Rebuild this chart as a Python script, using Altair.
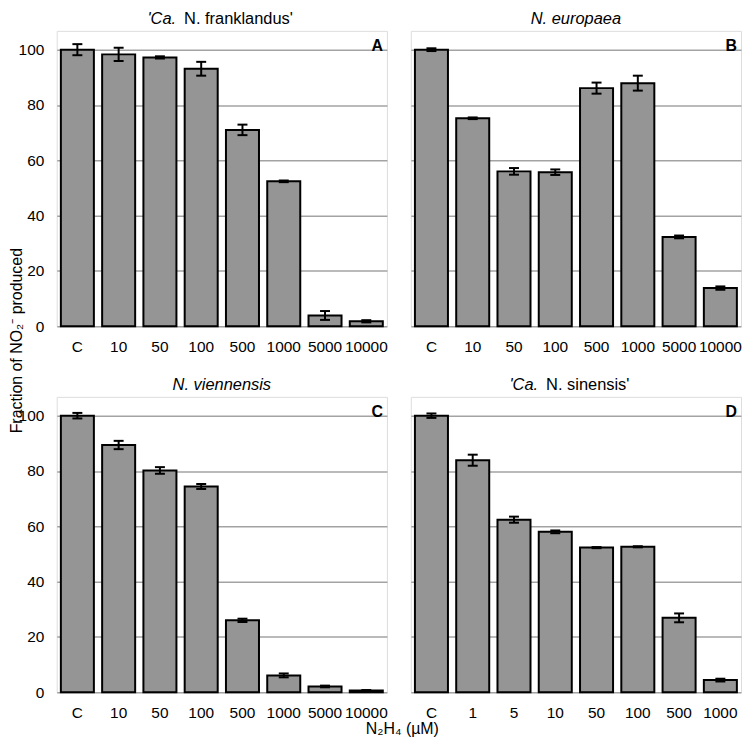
import altair as alt
import pandas as pd

FONT = "Liberation Sans"

# ---- data ----
cats_a = ["C", "10", "50", "100", "500", "1000", "5000", "10000"]
vals_a = [100.0, 98.3, 97.2, 93.1, 71.0, 52.4, 3.9, 1.8]
errs_a = [2.0, 2.4, 0.4, 2.5, 1.9, 0.3, 1.6, 0.4]

cats_b = ["C", "10", "50", "100", "500", "1000", "5000", "10000"]
vals_b = [100.0, 75.2, 56.0, 55.7, 86.1, 87.9, 32.3, 13.8]
errs_b = [0.5, 0.3, 1.2, 1.0, 2.0, 2.7, 0.5, 0.6]

cats_c = ["C", "10", "50", "100", "500", "1000", "5000", "10000"]
vals_c = [100.0, 89.4, 80.2, 74.4, 26.0, 6.1, 2.1, 0.6]
errs_c = [1.0, 1.5, 1.2, 0.9, 0.6, 0.7, 0.3, 0.2]

cats_d = ["C", "1", "5", "10", "50", "100", "500", "1000"]
vals_d = [100.0, 83.9, 62.4, 58.0, 52.3, 52.6, 26.9, 4.4]
errs_d = [0.8, 2.0, 1.1, 0.5, 0.2, 0.2, 1.6, 0.5]

y_ticks = [0, 20, 40, 60, 80, 100]

W, H = 332, 297
YMAX = 106.8
GRID = "#a3a3a3"


def panel(cats, vals, errs, letter, title_parts, show_y_labels, show_y_title, show_x_title):
    df = pd.DataFrame({
        "cat": cats,
        "val": vals,
        "lo": [v - e for v, e in zip(vals, errs)],
        "hi": [v + e for v, e in zip(vals, errs)],
    })
    xkw = dict(labelAngle=0, ticks=False, domain=False, grid=False,
               labelFont=FONT, labelFontSize=15.5, labelColor="black",
               labelBaseline="middle", labelPadding=20)
    if show_x_title:
        xaxis = alt.Axis(
            title="N\u2082H\u2084 (\u00b5M)",
            titleFont=FONT, titleFontSize=16, titleFontWeight="normal", titleColor="black",
            titleX=347, titleY=36, titleAlign="center", titleBaseline="middle", **xkw)
    else:
        xaxis = alt.Axis(title=None, **xkw)

    ykw = dict(values=y_ticks, ticks=False, domain=False, grid=True,
               gridColor=GRID, gridWidth=1.5)
    if show_y_labels:
        ykw.update(labelFont=FONT, labelFontSize=15.5, labelColor="black", labelPadding=13)
    else:
        ykw.update(labels=False)
    if show_y_title:
        yaxis = alt.Axis(
            title="Fraction of NO\u2082\u207b produced",
            titleFont=FONT, titleFontSize=16, titleFontWeight="normal", titleColor="black",
            titleX=-40, titleY=311, titleAlign="center", titleBaseline="middle",
            titleAngle=-90, **ykw)
    else:
        yaxis = alt.Axis(title=None, **ykw)

    xsc = alt.Scale(paddingInner=0.2, paddingOuter=0.1)
    ysc = alt.Scale(domain=[0, YMAX], nice=False, zero=True)
    X = alt.X("cat:N", sort=cats, scale=xsc, axis=xaxis)

    base = alt.Chart(df)
    bars = base.mark_bar(color="#959595", stroke="black", strokeWidth=2).encode(
        x=X, y=alt.Y("val:Q", scale=ysc, axis=yaxis))
    rules = base.mark_rule(color="black", strokeWidth=2).encode(
        x=X, y=alt.Y("lo:Q", scale=ysc, axis=yaxis), y2="hi:Q")
    cap_lo = base.mark_tick(color="black", size=10, thickness=2, opacity=1).encode(
        x=X, y=alt.Y("lo:Q", scale=ysc, axis=yaxis))
    cap_hi = base.mark_tick(color="black", size=10, thickness=2, opacity=1).encode(
        x=X, y=alt.Y("hi:Q", scale=ysc, axis=yaxis))

    lab = alt.Chart(pd.DataFrame({"t": [letter]})).mark_text(
        align="right", baseline="middle", font=FONT, fontSize=16, fontWeight="bold", color="black"
    ).encode(text="t:N", x=alt.value(W - 4), y=alt.value(15))

    layers = [bars, rules, cap_lo, cap_hi, lab]
    for txt, xpos, align, italic in title_parts:
        layers.append(
            alt.Chart(pd.DataFrame({"t": [txt]})).mark_text(
                align=align, baseline="middle", font=FONT, fontSize=16.5,
                fontStyle="italic" if italic else "normal", color="black"
            ).encode(text="t:N", x=alt.value(xpos), y=alt.value(-12))
        )
    return alt.layer(*layers).properties(width=W, height=H)


pa = panel(cats_a, vals_a, errs_a, "A",
           [("'Ca.", 120, "right", True), ("N. franklandus'", 128, "left", False)],
           True, True, False)
pb = panel(cats_b, vals_b, errs_b, "B",
           [("N. europaea", W / 2, "center", True)], False, False, False)
pc = panel(cats_c, vals_c, errs_c, "C",
           [("N. viennensis", W / 2, "center", True)], True, False, True)
pd_ = panel(cats_d, vals_d, errs_d, "D",
            [("'Ca.", 128, "right", True), ("N. sinensis'", 136, "left", False)],
            False, False, False)

chart = alt.concat(pa, pb, pc, pd_, columns=2, spacing={"row": 71, "column": 24}, bounds="flush").properties(
    padding=0
).configure_view(stroke="#a0a0a0", strokeWidth=1.5).configure(background="white")

chart.save("out.html", embed_options={"renderer": "svg", "actions": False})
